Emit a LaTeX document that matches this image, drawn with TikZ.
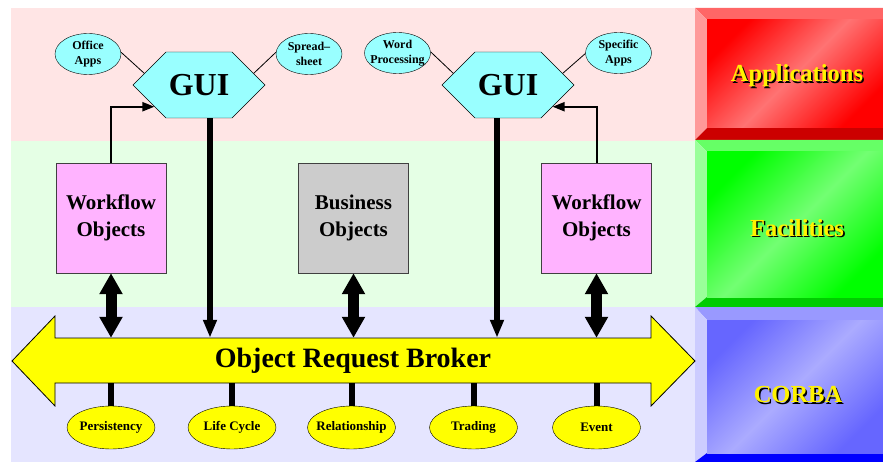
\documentclass[tikz,border=0pt]{standalone}
\usepackage{fontspec}
\setmainfont{Liberation Serif}
\usetikzlibrary{arrows.meta,shapes.geometric,shapes.symbols,calc}
\definecolor{bandA}{RGB}{255,229,229}
\definecolor{bandF}{RGB}{229,255,229}
\definecolor{bandC}{RGB}{229,229,255}
\definecolor{guicyan}{RGB}{153,255,255}
\definecolor{wfpink}{RGB}{255,179,255}
\definecolor{bizgray}{RGB}{204,204,204}
\definecolor{orbyellow}{RGB}{255,255,0}
\definecolor{redface}{RGB}{255,0,0}
\definecolor{redtop}{RGB}{255,102,102}
\definecolor{redleft}{RGB}{255,153,153}
\definecolor{redbot}{RGB}{204,0,0}
\definecolor{grnface}{RGB}{0,255,0}
\definecolor{grntop}{RGB}{102,255,102}
\definecolor{grnleft}{RGB}{153,255,153}
\definecolor{grnbot}{RGB}{0,204,0}
\definecolor{bluface}{RGB}{102,102,255}
\definecolor{blutop}{RGB}{153,153,255}
\definecolor{bluleft}{RGB}{204,204,255}
\definecolor{blubot}{RGB}{0,0,255}
\newcommand\drawpanel[8]{%
  \fill[#4] (695,#1) -- (883,#1) -- (883,#1+#7) -- (707,#1+#7) -- cycle;
  \fill[#5] (695,#1) -- (707,#1+#7) -- (707,#2-#8) -- (695,#2) -- cycle;
  \fill[#6] (695,#2) -- (707,#2-#8) -- (883,#2-#8) -- (883,#2) -- cycle;
  \shade[top color=#3, bottom color=#3, middle color=#3!55!white, shading angle=45] (707,#1+#7) rectangle (883,#2-#8);
}
\tikzset{
  paneltext/.style={font=\bfseries\fontsize{24.5}{28}\selectfont, inner sep=0pt},
  guihex/.style={shape=signal, signal to=east and west, signal pointer angle=90, draw=black, fill=guicyan,
    minimum width=132pt, minimum height=66pt, inner sep=0pt, font=\bfseries\fontsize{32}{36}\selectfont},
  appell/.style={ellipse, draw=black, fill=guicyan, minimum width=66pt, minimum height=41pt, inner sep=-30pt,
    align=center, font=\bfseries\fontsize{12}{15}\selectfont},
  objbox/.style={draw=black!75, minimum width=110pt, minimum height=110pt, inner sep=0pt, align=center,
    font=\bfseries\fontsize{21}{27}\selectfont},
  svcell/.style={ellipse, draw=black, fill=orbyellow, minimum width=88pt, minimum height=43pt, inner sep=-30pt,
    font=\bfseries\fontsize{13}{15}\selectfont},
  link/.style={line width=0.8pt},
  thinarrow/.style={line width=2pt, -{Triangle[length=12pt,width=9pt]}},
  downarrow/.style={line width=6.5pt, -{Triangle[length=18pt,width=13pt]}},
  dblarrow/.style={line width=11pt, {Triangle[length=21pt,width=22pt]}-{Triangle[length=21pt,width=22pt]}},
  stem/.style={line width=6pt},
}
\begin{document}
\begin{tikzpicture}[x=1pt,y=-1pt]
\useasboundingbox (0,0) rectangle (883,462);
% bands
\fill[bandA] (11,8) rectangle (695,141);
\fill[bandF] (11,141) rectangle (695,307);
\fill[bandC] (11,307) rectangle (695,462);
% right panels
\drawpanel{8}{140}{redface}{redtop}{redleft}{redbot}{12}{12}
\drawpanel{140}{307}{grnface}{grntop}{grnleft}{grnbot}{12}{10}
\drawpanel{307}{462}{bluface}{blutop}{bluleft}{blubot}{13}{9}
\node[paneltext, text=black] (appsS) at (798.6,77.6) {Applications};
\node[paneltext, text=yellow] (apps) at (797,76) {Applications};
\node[paneltext, text=black] (facS) at (798.6,229.6) {Facilities};
\node[paneltext, text=yellow] (fac) at (797,228) {Facilities};
\node[paneltext, text=black] (corS) at (799.6,396.6) {CORBA};
\node[paneltext, text=yellow] (cor) at (798,395) {CORBA};
% ORB arrow
\draw[fill=orbyellow, line width=0.8pt] (12,361) -- (55,316) -- (55,338) -- (651,338) -- (651,316) -- (695,361)
  -- (651,406) -- (651,383) -- (55,383) -- (55,406) -- cycle;
\node[minimum width=596pt, minimum height=45pt, inner sep=0pt, font=\bfseries\fontsize{28}{32}\selectfont]
  (orb) at (353,360.5) {Object Request Broker};
% GUIs
\node[guihex] (gui1) at (199,85) {GUI};
\node[guihex] (gui2) at (508,85) {GUI};
% app ellipses
\node[appell] (office) at (88,54) {Office\\Apps};
\node[appell] (spread) at (309,54) {Spread–\\sheet};
\node[appell] (word) at (397.5,53) {Word\\Processing};
\node[appell] (specific) at (618.5,53) {Specific\\Apps};
\draw[link] (office.3) -- (gui1.168);
\draw[link] (spread.177) -- (gui1.12);
\draw[link] (word.2) -- (gui2.168);
\draw[link] (specific.181) -- (gui2.12);
% object boxes
\node[objbox, fill=wfpink] (wf1) at (111,218) {Workflow\\Objects};
\node[objbox, fill=bizgray] (biz) at (353.5,218) {Business\\Objects};
\node[objbox, fill=wfpink] (wf2) at (596.5,218) {Workflow\\Objects};
% arrows
\draw[thinarrow] (wf1.north) |- (gui1.206);
\draw[thinarrow] (wf2.north) |- (gui2.334);
\draw[downarrow] ([xshift=11pt]gui1.south) -- ([xshift=11pt]gui1.south |- orb.north);
\draw[downarrow] ([xshift=-11pt]gui2.south) -- ([xshift=-11pt]gui2.south |- orb.north);
\draw[dblarrow] (wf1.south) -- (wf1.south |- orb.north);
\draw[dblarrow] (biz.south) -- (biz.south |- orb.north);
\draw[dblarrow] (wf2.south) -- (wf2.south |- orb.north);
% services
\node[svcell] (pers) at (111,427.5) {Persistency};
\node[svcell] (life) at (232,427.5) {Life Cycle};
\node[svcell] (rel) at (351.5,427.5) {Relationship};
\node[svcell] (trad) at (473.5,427.5) {Trading};
\node[svcell] (event) at (596.5,427.5) {Event};
\foreach \s in {pers,life,rel,trad,event}
  \draw[stem] (orb.south -| \s.north) -- (\s.north);
\end{tikzpicture}
\end{document}
